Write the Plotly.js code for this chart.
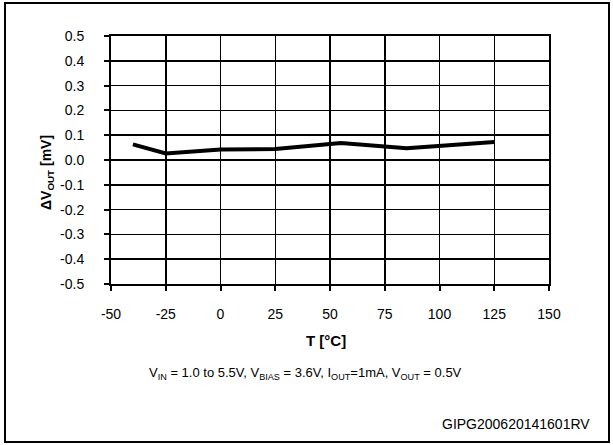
<!DOCTYPE html>
<html>
<head>
<meta charset="utf-8">
<script src="https://cdn.plot.ly/plotly-3.0.1.min.js"></script>
<style>
  html, body { margin: 0; padding: 0; background: #fff; }
  #wrap { position: relative; width: 613px; height: 445px; }
  #chart { position: absolute; left: 0; top: 0; width: 613px; height: 445px; }
  #frame { position: absolute; left: 4px; top: 2px; width: 602px; height: 437px; border: 2px solid #000; pointer-events: none; }
</style>
</head>
<body>
<div id="wrap">
  <div id="chart"></div>
  <div id="frame"></div>
</div>
<script>
const temperature = [-40, -25, 0, 25, 55, 85, 125];
const deltaVout = [0.063, 0.026, 0.042, 0.044, 0.069, 0.047, 0.073];
const xTicks = [-50, -25, 0, 25, 50, 75, 100, 125, 150];
const yTicks = [0.5, 0.4, 0.3, 0.2, 0.1, 0.0, -0.1, -0.2, -0.3, -0.4, -0.5];
const yTickText = ["0.5", "0.4", "0.3", "0.2", "0.1", "0.0", "-0.1", "-0.2", "-0.3", "-0.4", "-0.5"];

const FONT = "Liberation Sans, Arial, sans-serif";

const trace = {
  x: temperature,
  y: deltaVout,
  type: "scatter",
  mode: "lines",
  line: { color: "#000", width: 4 },
  hoverinfo: "skip"
};

const W = 613, H = 445;
const m = { l: 111, r: 64, t: 36, b: 161 };
const pw = W - m.l - m.r, ph = H - m.t - m.b;
function px(x) { return (x - m.l) / pw; }
function py(y) { return (H - m.b - y) / ph; }

const layout = {
  width: W, height: H,
  margin: m,
  paper_bgcolor: "#fff",
  plot_bgcolor: "#fff",
  showlegend: false,
  font: { family: FONT, size: 14, color: "#000" },
  xaxis: {
    range: [-50, 150],
    tickvals: xTicks,
    ticktext: xTicks.map(String),
    showgrid: true, gridcolor: "#000", gridwidth: 1.5,
    showline: true, linecolor: "#000", linewidth: 2, mirror: true,
    ticks: "outside", ticklen: 5, tickwidth: 2, tickcolor: "#000",
    ticklabelstandoff: 11,
    zeroline: false,
    tickfont: { family: FONT, size: 14, color: "#000" },
    fixedrange: true
  },
  yaxis: {
    range: [-0.5, 0.5],
    tickvals: yTicks,
    ticktext: yTickText,
    showgrid: true, gridcolor: "#000", gridwidth: 1.5,
    showline: true, linecolor: "#000", linewidth: 2, mirror: true,
    ticks: "outside", ticklen: 5, tickwidth: 2, tickcolor: "#000",
    ticklabelstandoff: 17,
    zeroline: false,
    tickfont: { family: FONT, size: 14, color: "#000" },
    fixedrange: true
  },
  annotations: [
    {
      text: "<b>ΔV<sub>OUT</sub> [mV]</b>",
      xref: "paper", yref: "paper",
      x: px(47), y: py(173),
      xanchor: "center", yanchor: "middle",
      textangle: -90, showarrow: false,
      font: { family: FONT, size: 14, color: "#000" }
    },
    {
      text: "<b>T [°C]</b>",
      xref: "paper", yref: "paper",
      x: px(326), y: py(340),
      xanchor: "center", yanchor: "middle",
      showarrow: false,
      font: { family: FONT, size: 15, color: "#000" }
    },
    {
      text: "V<sub>IN</sub> = 1.0 to 5.5V, V<sub>BIAS</sub> = 3.6V, I<sub>OUT</sub>=1mA, V<sub>OUT</sub> = 0.5V",
      xref: "paper", yref: "paper",
      x: px(305), y: py(373),
      xanchor: "center", yanchor: "middle",
      showarrow: false,
      font: { family: FONT, size: 13, color: "#000" }
    },
    {
      text: "GIPG200620141601RV",
      xref: "paper", yref: "paper",
      x: px(592), y: py(424),
      xanchor: "right", yanchor: "middle",
      showarrow: false,
      font: { family: FONT, size: 14, color: "#000" }
    }
  ]
};

Plotly.newPlot("chart", [trace], layout, { staticPlot: true, displayModeBar: false });
</script>
</body>
</html>
